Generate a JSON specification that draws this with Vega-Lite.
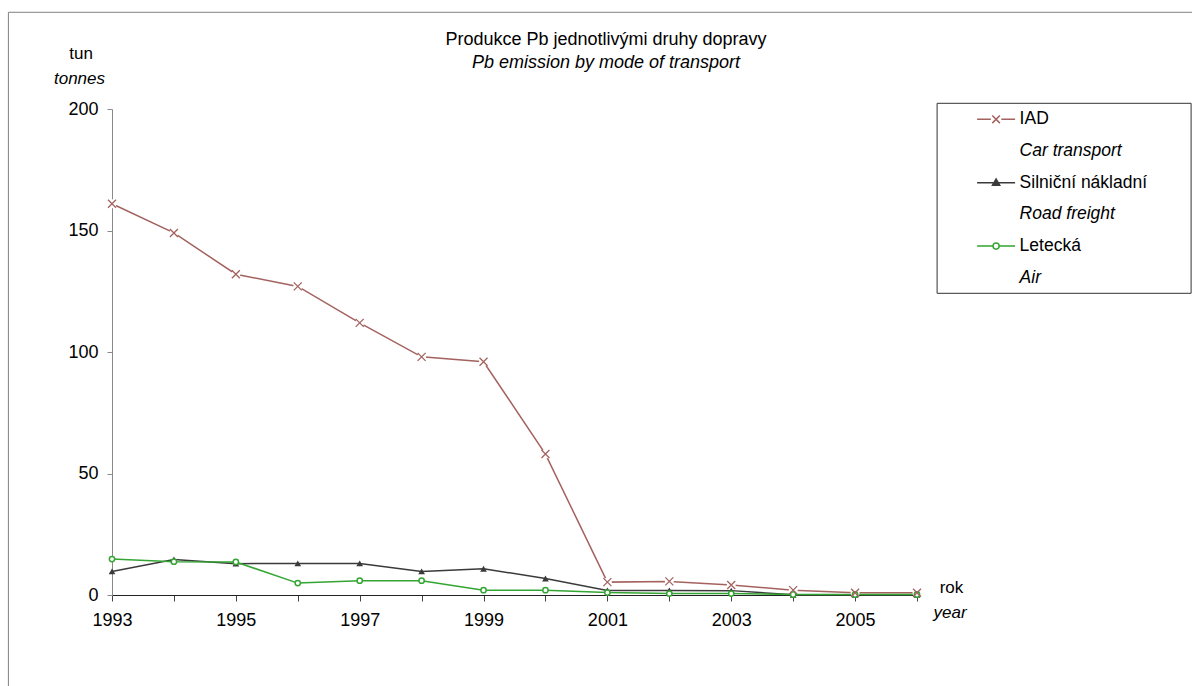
{
  "$schema": "https://vega.github.io/schema/vega-lite/v6.json",
  "width": 805,
  "height": 486,
  "autosize": {"type": "none"},
  "padding": {"left": 112, "top": 109, "right": 275, "bottom": 91},
  "background": "white",
  "config": {
    "font": "Liberation Sans",
    "view": {"stroke": null},
    "axis": {"grid": false, "labelFont": "Liberation Sans", "titleFont": "Liberation Sans"}
  },
  "title": {
    "text": "Produkce Pb jednotlivými druhy dopravy",
    "subtitle": "Pb emission by mode of transport",
    "anchor": "middle",
    "frame": "group",
    "dx": 91.5,
    "offset": -60,
    "fontSize": 18,
    "fontWeight": "normal",
    "color": "#000",
    "subtitleFontSize": 18,
    "subtitleFontStyle": "italic",
    "subtitleColor": "#000",
    "subtitlePadding": 5,
    "font": "Liberation Sans",
    "subtitleFont": "Liberation Sans"
  },
  "data": {
    "values": [
      {"year": 1993, "series": "IAD", "value": 161},
      {"year": 1994, "series": "IAD", "value": 149},
      {"year": 1995, "series": "IAD", "value": 132},
      {"year": 1996, "series": "IAD", "value": 127},
      {"year": 1997, "series": "IAD", "value": 112},
      {"year": 1998, "series": "IAD", "value": 98},
      {"year": 1999, "series": "IAD", "value": 96},
      {"year": 2000, "series": "IAD", "value": 58},
      {"year": 2001, "series": "IAD", "value": 5.3},
      {"year": 2002, "series": "IAD", "value": 5.6},
      {"year": 2003, "series": "IAD", "value": 4.1},
      {"year": 2004, "series": "IAD", "value": 2},
      {"year": 2005, "series": "IAD", "value": 0.9},
      {"year": 2006, "series": "IAD", "value": 0.9},
      {"year": 1993, "series": "Silniční nákladní", "value": 9.7},
      {"year": 1994, "series": "Silniční nákladní", "value": 14.6},
      {"year": 1995, "series": "Silniční nákladní", "value": 12.9},
      {"year": 1996, "series": "Silniční nákladní", "value": 13},
      {"year": 1997, "series": "Silniční nákladní", "value": 13},
      {"year": 1998, "series": "Silniční nákladní", "value": 9.7},
      {"year": 1999, "series": "Silniční nákladní", "value": 10.8},
      {"year": 2000, "series": "Silniční nákladní", "value": 6.8},
      {"year": 2001, "series": "Silniční nákladní", "value": 1.9},
      {"year": 2002, "series": "Silniční nákladní", "value": 1.9},
      {"year": 2003, "series": "Silniční nákladní", "value": 1.8},
      {"year": 2004, "series": "Silniční nákladní", "value": 0.1},
      {"year": 2005, "series": "Silniční nákladní", "value": 0.1},
      {"year": 2006, "series": "Silniční nákladní", "value": 0.1},
      {"year": 1993, "series": "Letecká", "value": 14.8},
      {"year": 1994, "series": "Letecká", "value": 13.7},
      {"year": 1995, "series": "Letecká", "value": 13.6},
      {"year": 1996, "series": "Letecká", "value": 4.9},
      {"year": 1997, "series": "Letecká", "value": 5.9},
      {"year": 1998, "series": "Letecká", "value": 5.9},
      {"year": 1999, "series": "Letecká", "value": 2},
      {"year": 2000, "series": "Letecká", "value": 2},
      {"year": 2001, "series": "Letecká", "value": 1},
      {"year": 2002, "series": "Letecká", "value": 0.6},
      {"year": 2003, "series": "Letecká", "value": 0.6},
      {"year": 2004, "series": "Letecká", "value": 0.2},
      {"year": 2005, "series": "Letecká", "value": 0.2},
      {"year": 2006, "series": "Letecká", "value": 0.2}
    ]
  },
  "resolve": {"axis": {"x": "independent", "y": "independent"}},
  "layer": [
    {
      "data": {"values": [{"frame": 1}]},
      "mark": {"type": "rect", "fill": "transparent", "stroke": "#808080", "strokeWidth": 1, "clip": false},
      "encoding": {
        "x": {"datum": 1991.327, "type": "quantitative", "scale": {"domain": [1993, 2006], "nice": false, "zero": false}, "axis": null},
        "x2": {"datum": 2016},
        "y": {"datum": 239.8, "type": "quantitative", "scale": {"domain": [0, 200], "nice": false, "zero": true}, "axis": null},
        "y2": {"datum": -60}
      }
    },
    {
      "mark": {"type": "line", "strokeWidth": 1.5},
      "encoding": {
        "x": {
          "field": "year", "type": "quantitative",
          "scale": {"domain": [1993, 2006], "nice": false, "zero": false},
          "axis": {
            "values": [1993, 1994, 1995, 1996, 1997, 1998, 1999, 2000, 2001, 2002, 2003, 2004, 2005, 2006],
            "format": "d",
            "labelExpr": "datum.value % 2 == 1 ? datum.label : ''",
            "domainColor": "#222",
            "tickColor": "#444",
            "tickSize": 6,
            "labelPadding": 10,
            "labelFontSize": 18,
            "labelColor": "#000",
            "labelFlush": false,
            "labelOverlap": false,
            "title": "rok",
            "titleX": 839,
            "titleY": -7.4,
            "titleAlign": "center",
            "titleBaseline": "middle",
            "titleFontSize": 17,
            "titleFontWeight": "normal",
            "titleColor": "#000"
          }
        },
        "y": {
          "field": "value", "type": "quantitative",
          "scale": {"domain": [0, 200], "nice": false, "zero": true},
          "axis": {
            "values": [0, 50, 100, 150, 200],
            "domainColor": "#888",
            "tickColor": "#888",
            "tickSize": 5,
            "labelPadding": 9,
            "labelFontSize": 18,
            "labelColor": "#000",
            "title": "tun",
            "titleAngle": 0,
            "titleAlign": "center",
            "titleBaseline": "middle",
            "titleX": -31.4,
            "titleY": -55.2,
            "titleFontSize": 17,
            "titleFontWeight": "normal",
            "titleColor": "#000"
          }
        },
        "color": {
          "field": "series", "type": "nominal",
          "scale": {
            "domain": ["IAD", "Car transport", "Silniční nákladní", "Road freight", "Letecká", "Air"],
            "range": ["#a4625f", "transparent", "#3a3a3a", "transparent", "#33a532", "transparent"]
          },
          "legend": {
            "orient": "none",
            "legendX": 824.6,
            "legendY": -6.2,
            "title": "XXX",
            "titleOrient": "right",
            "titleColor": "transparent",
            "titleFontSize": 17.5,
            "titlePadding": 2,
            "padding": 6,
            "strokeColor": "#333",
            "fillColor": "white",
            "labelFontSize": 17.5,
            "labelFont": "Liberation Sans",
            "labelColor": "#000",
            "labelLimit": 400,
            "symbolSize": 361,
            "symbolStrokeWidth": 1.5,
            "rowPadding": 12.7,
            "symbolOffset": 43,
            "labelOffset": 13,
            "encode": {
              "symbols": {
                "update": {
                  "shape": {"signal": "datum.value == 'IAD' ? 'M-2,0H-0.55M0.55,0H2M-0.4,-0.4L0.4,0.4M-0.4,0.4L0.4,-0.4' : datum.value == 'Silniční nákladní' ? 'M-2,0H2M0,-0.38L0.38,0.28L-0.38,0.28Z' : datum.value == 'Letecká' ? 'M-2,0H-0.32M0.32,0H2M0.32,0A0.32,0.32 0 1,1 -0.32,0A0.32,0.32 0 1,1 0.32,0Z' : 'M0,0'"},
                  "stroke": {"signal": "datum.value == 'IAD' ? '#a4625f' : datum.value == 'Silniční nákladní' ? '#3a3a3a' : datum.value == 'Letecká' ? '#33a532' : 'transparent'"},
                  "fill": {"signal": "datum.value == 'Silniční nákladní' ? '#3a3a3a' : datum.value == 'Letecká' ? 'white' : 'transparent'"},
                  "opacity": {"value": 1}
                }
              },
              "labels": {
                "update": {
                  "fontStyle": {"signal": "indexof(['Car transport', 'Road freight', 'Air'], datum.value) >= 0 ? 'italic' : 'normal'"}
                }
              }
            }
          }
        }
      }
    },
    {
      "transform": [{"filter": "datum.series == 'IAD'"}],
      "mark": {"type": "point", "shape": "circle", "filled": true, "fill": "white", "strokeWidth": 0, "size": 80, "opacity": 1},
      "encoding": {
        "x": {"field": "year", "type": "quantitative", "scale": {"domain": [1993, 2006], "nice": false, "zero": false}, "axis": null},
        "y": {"field": "value", "type": "quantitative", "scale": {"domain": [0, 200], "nice": false, "zero": true}, "axis": null}
      }
    },
    {
      "transform": [{"filter": "datum.series == 'Silniční nákladní'"}],
      "mark": {"type": "point", "shape": "triangle-up", "filled": true, "color": "#3a3a3a", "size": 45, "opacity": 1},
      "encoding": {
        "x": {"field": "year", "type": "quantitative", "scale": {"domain": [1993, 2006], "nice": false, "zero": false}, "axis": null},
        "y": {"field": "value", "type": "quantitative", "scale": {"domain": [0, 200], "nice": false, "zero": true}, "axis": null}
      }
    },
    {
      "transform": [{"filter": "datum.series == 'Letecká'"}],
      "mark": {"type": "point", "shape": "circle", "filled": true, "fill": "white", "stroke": "#33a532", "strokeWidth": 1.5, "size": 28, "opacity": 1},
      "encoding": {
        "x": {"field": "year", "type": "quantitative", "scale": {"domain": [1993, 2006], "nice": false, "zero": false}, "axis": null},
        "y": {"field": "value", "type": "quantitative", "scale": {"domain": [0, 200], "nice": false, "zero": true}, "axis": null}
      }
    },
    {
      "transform": [{"filter": "datum.series == 'IAD'"}],
      "mark": {"type": "point", "shape": "M-1,-1L1,1M-1,1L1,-1", "filled": false, "stroke": "#a4625f", "strokeWidth": 1.3, "size": 64, "opacity": 1},
      "encoding": {
        "x": {
          "field": "year", "type": "quantitative",
          "scale": {"domain": [1993, 2006], "nice": false, "zero": false},
          "axis": {
            "orient": "top", "domain": false, "ticks": false, "labels": false,
            "title": "year", "titleFontStyle": "italic", "titleX": 837.6, "titleY": 503.5,
            "titleAlign": "center", "titleBaseline": "middle", "titleFontSize": 17,
            "titleFontWeight": "normal", "titleColor": "#000"
          }
        },
        "y": {
          "field": "value", "type": "quantitative",
          "scale": {"domain": [0, 200], "nice": false, "zero": true},
          "axis": {
            "orient": "right", "domain": false, "ticks": false, "labels": false,
            "title": "tonnes", "titleFontStyle": "italic", "titleAngle": 0, "titleX": -838, "titleY": -30.3,
            "titleAlign": "center", "titleBaseline": "middle", "titleFontSize": 17,
            "titleFontWeight": "normal", "titleColor": "#000"
          }
        }
      }
    }
  ]
}
